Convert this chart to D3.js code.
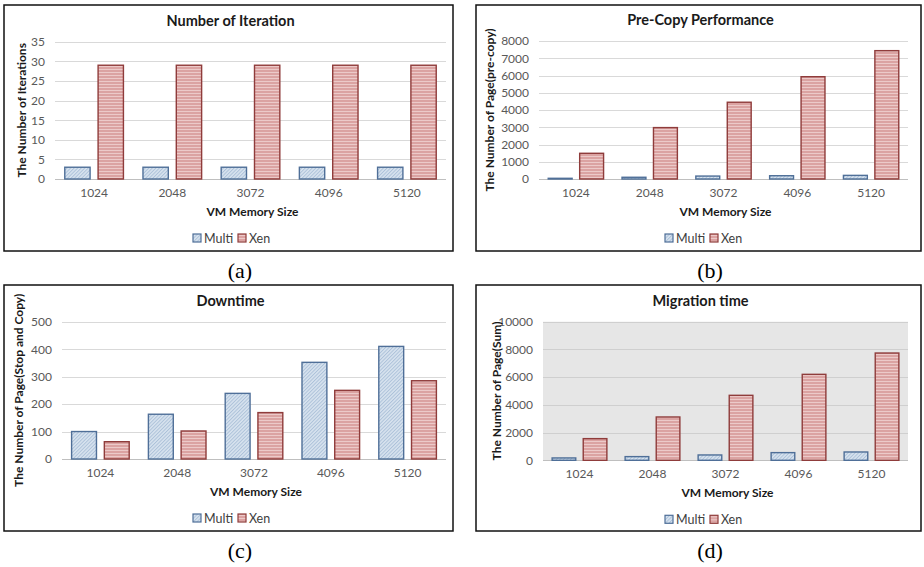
<!DOCTYPE html>
<html>
<head>
<meta charset="utf-8">
<script src="https://cdn.jsdelivr.net/npm/d3@7"></script>
<style>
  body { margin: 0; background: #fff; }
  text { font-family: Lato, "Open Sans", sans-serif; }
</style>
</head>
<body>
<script>
var width = 924, height = 567;

// data
var sizes = ["1024", "2048", "3072", "4096", "5120"];
var seriesNames = ["Multi", "Xen"];

var iterMulti = [3, 3, 3, 3, 3];
var iterXen = [29, 29, 29, 29, 29];
var iterTicks = [0, 5, 10, 15, 20, 25, 30, 35];

var preMulti = [40, 100, 170, 190, 210];
var preXen = [1490, 2980, 4450, 5930, 7440];
var preTicks = [0, 1000, 2000, 3000, 4000, 5000, 6000, 7000, 8000];

var downMulti = [100, 163, 239, 352, 410];
var downXen = [63, 102, 169, 250, 285];
var downTicks = [0, 100, 200, 300, 400, 500];

var migMulti = [170, 265, 385, 553, 600];
var migXen = [1563, 3125, 4688, 6202, 7740];
var migTicks = [0, 2000, 4000, 6000, 8000, 10000];

var svg = d3.select("body").append("svg")
  .attr("width", width).attr("height", height);

svg.append("rect").attr("width", width).attr("height", height).attr("fill", "#fff");

/* fill patterns for the two series */
var defs = svg.append("defs");
var pm = defs.append("pattern").attr("id", "hatchMulti")
  .attr("patternUnits", "userSpaceOnUse")
  .attr("width", 2.5).attr("height", 2.5)
  .attr("patternTransform", "rotate(45)");
pm.append("rect").attr("width", 2.5).attr("height", 2.5).attr("fill", "#d8e3ef");
pm.append("line").attr("x1", 0.5).attr("y1", 0).attr("x2", 0.5).attr("y2", 2.5)
  .attr("stroke", "#a9bfd8").attr("stroke-width", 0.9);

var px = defs.append("pattern").attr("id", "hatchXen")
  .attr("patternUnits", "userSpaceOnUse")
  .attr("width", 4).attr("height", 3);
px.append("rect").attr("width", 4).attr("height", 3).attr("fill", "#dba3a2");
px.append("line").attr("x1", 0).attr("y1", 0.5).attr("x2", 4).attr("y2", 0.5)
  .attr("stroke", "#eccac9").attr("stroke-width", 1);

var fills = { Multi: "url(#hatchMulti)", Xen: "url(#hatchXen)" };
var strokes = { Multi: "#4f6f98", Xen: "#8f3c3b" };

function drawPanel(p) {
  var g = svg.append("g");

  // frame
  g.append("rect")
    .attr("x", p.box[0]).attr("y", p.box[1])
    .attr("width", p.box[2] - p.box[0]).attr("height", p.box[3] - p.box[1])
    .attr("fill", "none").attr("stroke", "#111").attr("stroke-width", 1.5);

  var x0 = d3.scaleBand().domain(sizes)
    .range([p.left, p.right]).paddingInner(0.25).paddingOuter(0.125);
  var x1 = d3.scaleBand().domain(seriesNames)
    .range([0, x0.bandwidth()]).paddingInner(0.24);
  var y = d3.scaleLinear().domain([0, p.ticks[p.ticks.length - 1]])
    .range([p.bottom, p.top]);

  if (p.grey) {
    g.append("rect").attr("x", p.left).attr("y", p.top)
      .attr("width", p.right - p.left).attr("height", p.bottom - p.top)
      .attr("fill", "#e6e6e6");
  }

  // gridlines
  g.selectAll(".grid").data(p.ticks).enter().append("line")
    .attr("x1", p.left).attr("x2", p.right)
    .attr("y1", function(d){ return Math.round(y(d)) + 0.5; })
    .attr("y2", function(d){ return Math.round(y(d)) + 0.5; })
    .attr("stroke", function(d){ return d === 0 ? "#bfbfbf" : (p.grey ? "#cfcfcf" : "#d9d9d9"); })
    .attr("stroke-width", 1);

  // y tick labels
  var yAxis = g.append("g").attr("transform", "translate(" + (p.left - 2) + ",0)")
    .call(d3.axisLeft(y).tickValues(p.ticks).tickFormat(d3.format("d"))
      .tickSize(0).tickPadding(8));
  yAxis.select(".domain").remove();
  yAxis.selectAll("text").attr("fill", "#595959")
    .style("font-family", "Lato, sans-serif").style("font-size", "12px");

  // x tick labels
  var xAxis = g.append("g").attr("transform", "translate(0," + p.bottom + ")")
    .call(d3.axisBottom(x0).tickSize(0).tickPadding(9));
  xAxis.select(".domain").remove();
  xAxis.selectAll("text").attr("fill", "#595959")
    .style("font-family", "Lato, sans-serif").style("font-size", "12px");

  // bars
  var rows = sizes.map(function(s, i){
    return { size: s, vals: [{ k: "Multi", v: p.multi[i] }, { k: "Xen", v: p.xen[i] }] };
  });
  g.selectAll(".cat").data(rows).enter().append("g")
    .attr("transform", function(d){ return "translate(" + x0(d.size) + ",0)"; })
    .selectAll("rect").data(function(d){ return d.vals; }).enter().append("rect")
    .attr("x", function(d){ return x1(d.k); })
    .attr("y", function(d){ return y(d.v); })
    .attr("width", x1.bandwidth())
    .attr("height", function(d){ return p.bottom - y(d.v); })
    .attr("fill", function(d){ return fills[d.k]; })
    .attr("stroke", function(d){ return strokes[d.k]; })
    .attr("stroke-width", 1.4);

  var cx = (p.box[0] + p.box[2]) / 2;

  // chart title
  g.append("text").attr("x", cx + 2).attr("y", p.top - 16)
    .attr("text-anchor", "middle").attr("fill", "#1a1a1a")
    .style("font-size", "14.5px").style("font-weight", "bold")
    .text(p.title);

  // axis titles
  g.append("text").attr("x", (p.left + p.right) / 2 + 2).attr("y", p.bottom + 37)
    .attr("text-anchor", "middle").attr("fill", "#1a1a1a")
    .style("font-size", "12px").style("font-weight", "bold")
    .text("VM Memory Size");

  g.append("text")
    .attr("transform", "translate(" + p.ytx + "," + ((p.top + p.bottom) / 2) + ") rotate(-90)")
    .attr("text-anchor", "middle").attr("fill", "#1a1a1a")
    .style("font-size", "12px").style("font-weight", "bold")
    .text(p.ytitle);

  // legend
  var lg = g.append("g").attr("transform", "translate(" + (p.legendX) + "," + (p.bottom + 59) + ")");
  var items = [{ k: "Multi", dx: 0 }, { k: "Xen", dx: 45 }];
  items.forEach(function(it){
    lg.append("rect").attr("x", it.dx).attr("y", -4).attr("width", 8).attr("height", 8)
      .attr("fill", fills[it.k]).attr("stroke", strokes[it.k]).attr("stroke-width", 1.2);
    lg.append("text").attr("x", it.dx + 11).attr("y", 4.5)
      .attr("fill", "#404040").style("font-size", "12.5px").text(it.k);
  });

  // sub-figure label
  svg.append("text").attr("x", p.labelX).attr("y", p.box[3] + 27)
    .attr("text-anchor", "middle").attr("fill", "#000")
    .style("font-family", "'Liberation Serif', 'Times New Roman', serif")
    .style("font-size", "22px")
    .text(p.label);
}

drawPanel({ box: [4, 5, 453, 251], left: 55, right: 446, top: 41.7, bottom: 179,
  ticks: iterTicks, multi: iterMulti, xen: iterXen,
  title: "Number of Iteration", ytitle: "The Number of Iterations", ytx: 26,
  legendX: 193, label: "(a)", labelX: 240 });

drawPanel({ box: [476, 5, 921, 251], left: 539, right: 908, top: 41, bottom: 179,
  ticks: preTicks, multi: preMulti, xen: preXen,
  title: "Pre-Copy Performance", ytitle: "The Number of Page(pre-copy)", ytx: 494,
  legendX: 665, label: "(b)", labelX: 710 });

drawPanel({ box: [4, 285, 453, 531], left: 62, right: 446, top: 321.7, bottom: 459,
  ticks: downTicks, multi: downMulti, xen: downXen,
  title: "Downtime", ytitle: "The Number of Page(Stop and Copy)", ytx: 23,
  legendX: 193, label: "(c)", labelX: 240 });

drawPanel({ box: [476, 285, 921, 531], left: 543, right: 908, top: 321.7, bottom: 460.3,
  ticks: migTicks, multi: migMulti, xen: migXen, grey: true,
  title: "Migration time", ytitle: "The Number of Page(Sum)", ytx: 501,
  legendX: 665, label: "(d)", labelX: 710 });
</script>
</body>
</html>
